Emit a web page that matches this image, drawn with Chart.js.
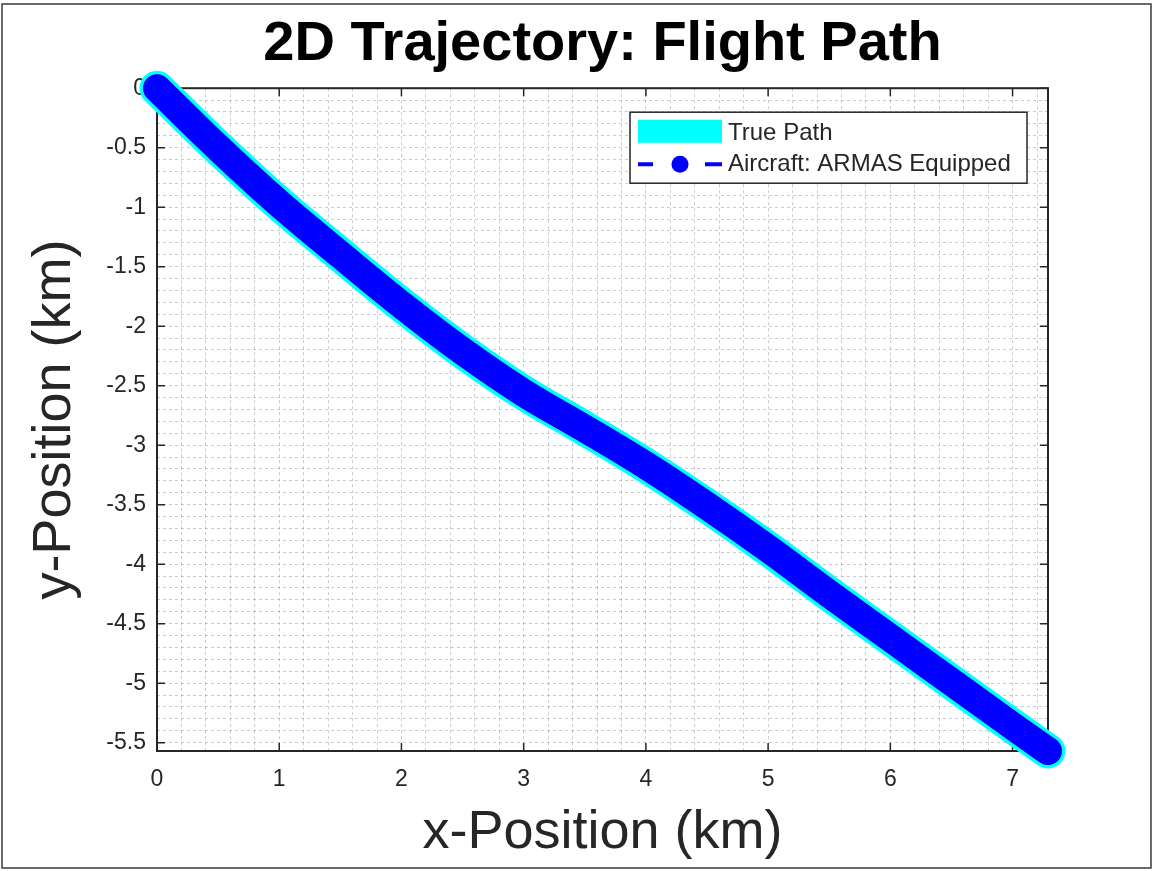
<!DOCTYPE html>
<html>
<head>
<meta charset="utf-8">
<title>2D Trajectory: Flight Path</title>
<script src="https://cdn.jsdelivr.net/npm/chart.js@4.4.1/dist/chart.umd.min.js"></script>
<style>
  html, body { margin: 0; padding: 0; background: #fff; }
  #wrap { width: 1153px; height: 871px; }
</style>
</head>
<body>
<div id="wrap"><canvas id="trajectory-chart" width="1153" height="871"></canvas></div>
<script>
// Flight path samples (km)
const xPos = [0, 0.5, 1.0, 1.5, 2.0, 2.5, 3.0, 3.5, 4.0, 4.5, 5.0, 5.5, 6.0, 6.5, 7.0, 7.29];
const yPos = [0, -0.50, -0.97, -1.40, -1.82, -2.21, -2.56, -2.86, -3.17, -3.51, -3.87, -4.25, -4.62, -4.99, -5.36, -5.57];

// Axis setup
const xTicks = [0, 1, 2, 3, 4, 5, 6, 7];
const yTicks = [0, -0.5, -1, -1.5, -2, -2.5, -3, -3.5, -4, -4.5, -5, -5.5];
const xLimits = [0, 7.29];
const yLimits = [-5.57, 0];
const xMinorStep = 0.2;
const yMinorStep = 0.1;
const seriesLabels = ['True Path', 'Aircraft: ARMAS Equipped'];

const FONT = '"Liberation Sans", Arial, Helvetica, sans-serif';
const AXIS_COLOR = '#262626';
const GRID_COLOR = 'rgba(0,0,0,0.2)';

const pathPoints = xPos.map((x, i) => ({ x, y: yPos[i] }));

function matchTick(list, v) {
    const t = list.find(t => Math.abs(t - v) < 1e-6);
    return t === undefined ? '' : String(t);
}

// grid positions: minor steps inside the limits (every major tick lands on one)
function minorTicks(lim, step) {
    const out = [];
    const first = Math.ceil(lim[0] / step - 1e-9);
    const last = Math.floor(lim[1] / step + 1e-9);
    for (let i = first; i <= last; i++) out.push({ value: Math.round(i * step * 1000) / 1000 });
    return out;
}

// MATLAB-style box, inward ticks, in-axes legend and figure frame
const matlabLook = {
    id: 'matlabLook',
    beforeDraw(chart) {
        const ctx = chart.ctx;
        ctx.save();
        ctx.fillStyle = '#fff';
        ctx.fillRect(0, 0, chart.width, chart.height);
        ctx.strokeStyle = '#3a3a3a';
        ctx.lineWidth = 1.5;
        ctx.strokeRect(2, 4, chart.width - 4, chart.height - 7);
        ctx.restore();
    },
    beforeDatasetsDraw(chart) {
        const { ctx, chartArea: a, scales } = chart;
        ctx.save();
        ctx.strokeStyle = AXIS_COLOR;
        ctx.lineWidth = 2;
        ctx.strokeRect(a.left, a.top, a.right - a.left, a.bottom - a.top);
        ctx.lineWidth = 1.5;
        ctx.beginPath();
        for (const t of xTicks) {
            const px = scales.x.getPixelForValue(t);
            ctx.moveTo(px, a.bottom); ctx.lineTo(px, a.bottom - 8);
            ctx.moveTo(px, a.top); ctx.lineTo(px, a.top + 8);
        }
        for (const t of yTicks) {
            const py = scales.y.getPixelForValue(t);
            ctx.moveTo(a.left, py); ctx.lineTo(a.left + 8, py);
            ctx.moveTo(a.right, py); ctx.lineTo(a.right - 8, py);
        }
        ctx.stroke();
        ctx.restore();
    },
    afterDatasetsDraw(chart) {
        const { ctx, chartArea: a } = chart;
        const ds = chart.data.datasets;
        const w = 397, h = 71;
        const bx = a.right - 21 - w, by = a.top + 24;
        ctx.save();
        ctx.fillStyle = '#fff';
        ctx.fillRect(bx, by, w, h);
        ctx.strokeStyle = AXIS_COLOR;
        ctx.lineWidth = 1.5;
        ctx.strokeRect(bx, by, w, h);

        const x0 = bx + 8, x1 = bx + 92, xm = (x0 + x1) / 2;
        const r1 = by + 19, r2 = by + 52;
        // row 1: thick cyan line
        ctx.strokeStyle = ds[0].borderColor;
        ctx.lineWidth = 23;
        ctx.lineCap = 'butt';
        ctx.beginPath(); ctx.moveTo(x0, r1); ctx.lineTo(x1, r1); ctx.stroke();
        // row 2: dashed blue line with a circle marker
        ctx.strokeStyle = ds[1].borderColor;
        ctx.lineWidth = 4;
        ctx.beginPath();
        ctx.moveTo(x0, r2); ctx.lineTo(x0 + 15, r2);
        ctx.moveTo(x1 - 17, r2); ctx.lineTo(x1, r2);
        ctx.stroke();
        ctx.fillStyle = ds[1].borderColor;
        ctx.beginPath(); ctx.arc(xm, r2, 8.5, 0, Math.PI * 2); ctx.fill();

        ctx.fillStyle = AXIS_COLOR;
        ctx.font = '24px ' + FONT;
        ctx.textAlign = 'left';
        ctx.textBaseline = 'middle';
        ctx.fillText(ds[0].label, x1 + 6, r1 + 2);
        ctx.fillText(ds[1].label, x1 + 6, r2);
        ctx.restore();
    }
};

new Chart(document.getElementById('trajectory-chart'), {
    type: 'scatter',
    data: {
        datasets: [
            { label: seriesLabels[0], data: pathPoints, showLine: true, order: 2,
              borderColor: '#00FFFF', backgroundColor: '#00FFFF',
              borderWidth: 35, borderCapStyle: 'round', borderJoinStyle: 'round', pointRadius: 0,
              cubicInterpolationMode: 'monotone', clip: false },
            { label: seriesLabels[1], data: pathPoints, showLine: true, order: 1,
              borderColor: '#0000FF', backgroundColor: '#0000FF',
              borderWidth: 28, borderCapStyle: 'round', borderJoinStyle: 'round', pointRadius: 0,
              cubicInterpolationMode: 'monotone', clip: false }
        ]
    },
    options: {
        responsive: false,
        animation: false,
        devicePixelRatio: 1,
        layout: { padding: { left: 0, right: 105, top: 0, bottom: 0 } },
        scales: {
            x: {
                type: 'linear', min: xLimits[0], max: xLimits[1],
                afterFit: s => { s.height = 120; },
                afterBuildTicks: s => { s.ticks = minorTicks(xLimits, xMinorStep); },
                grid: { color: GRID_COLOR, lineWidth: 1, drawTicks: false },
                border: { display: false, dash: [3, 3] },
                ticks: { autoSkip: false, maxRotation: 0, padding: 15, color: AXIS_COLOR,
                         font: { family: FONT, size: 23 }, callback: v => matchTick(xTicks, v) },
                title: { display: true, text: 'x-Position (km)', color: AXIS_COLOR,
                         font: { family: FONT, size: 54 }, padding: { top: 0, bottom: 5 } }
            },
            y: {
                type: 'linear', min: yLimits[0], max: yLimits[1],
                afterFit: s => { s.width = 157; },
                afterBuildTicks: s => { s.ticks = minorTicks(yLimits, yMinorStep); },
                grid: { color: GRID_COLOR, lineWidth: 1, drawTicks: false },
                border: { display: false, dash: [3, 3] },
                ticks: { autoSkip: false, padding: 11, color: AXIS_COLOR,
                         font: { family: FONT, size: 23 }, callback: v => matchTick(yTicks, v) },
                title: { display: true, text: 'y-Position (km)', color: AXIS_COLOR,
                         font: { family: FONT, size: 54 }, padding: { top: 23, bottom: 0 } }
            }
        },
        plugins: {
            legend: { display: false },
            tooltip: { enabled: false },
            title: { display: true, text: '2D Trajectory: Flight Path', color: '#000', fullSize: false,
                     font: { family: FONT, size: 56, weight: 'bold' }, padding: { top: 11, bottom: 10 } }
        }
    },
    plugins: [matlabLook]
});
</script>
</body>
</html>
